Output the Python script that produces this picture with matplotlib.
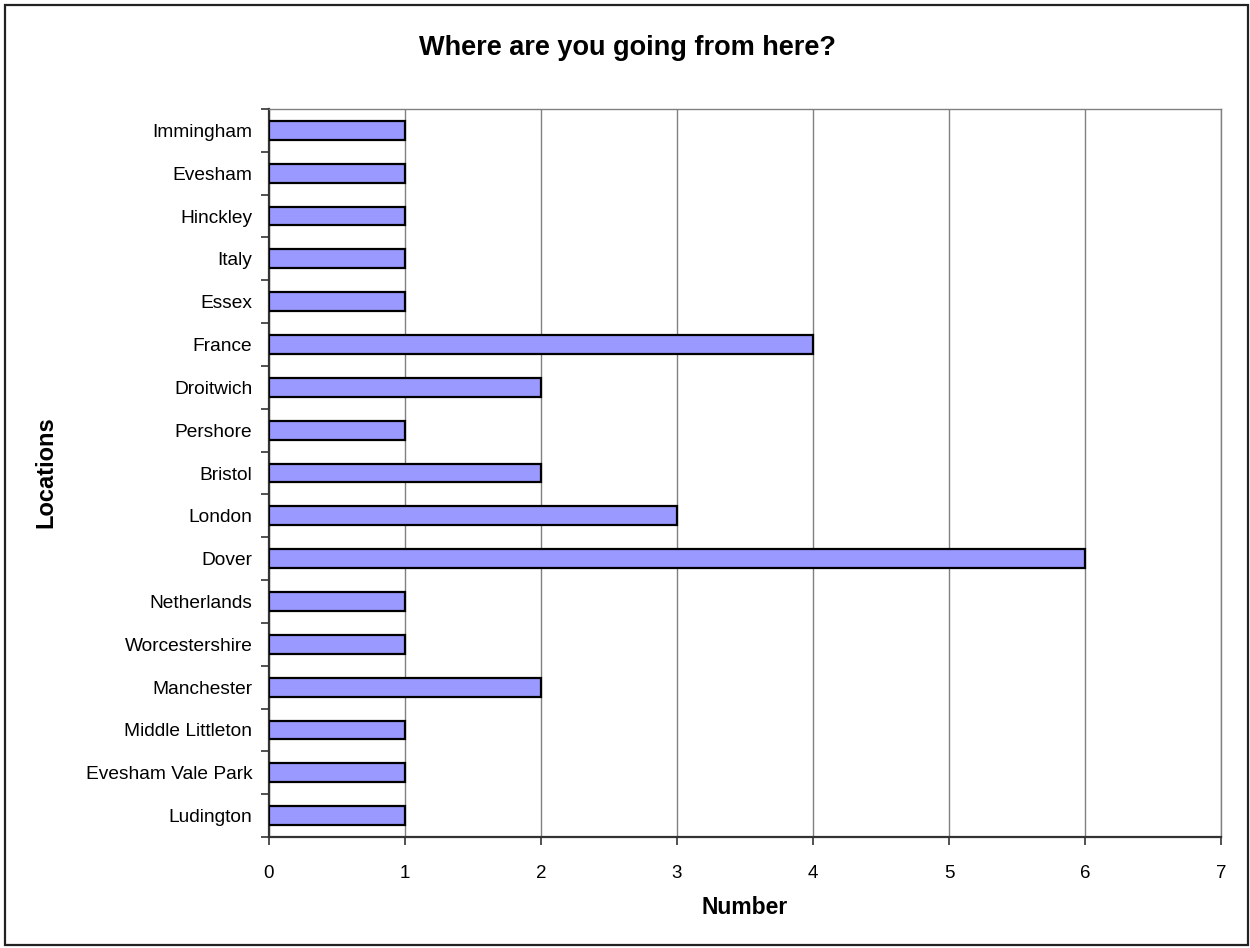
"""
plot.py
Horizontal bar chart of where people are heading next
"""

import numpy as np
import matplotlib.pyplot as plt
from matplotlib.patches import Rectangle

plt.rcParams['font.family'] = ['Liberation Sans', 'DejaVu Sans']

# Data (bottom to top)
locations = ['Ludington', 'Evesham Vale Park', 'Middle Littleton', 'Manchester',
             'Worcestershire', 'Netherlands', 'Dover', 'London', 'Bristol',
             'Pershore', 'Droitwich', 'France', 'Essex', 'Italy', 'Hinckley',
             'Evesham', 'Immingham']
counts = [1, 1, 1, 2, 1, 1, 6, 3, 2, 1, 2, 4, 1, 1, 1, 1, 1]
x_ticks = [0, 1, 2, 3, 4, 5, 6, 7]

W, H = 1250, 948
fig = plt.figure(figsize=(W/100, H/100), dpi=100, facecolor='w')

# Outer chart border
fig.patches.append(Rectangle((5/W, 3/H), 1243/W, 940/H, transform=fig.transFigure,
                             fill=False, edgecolor='#222222', linewidth=1.6))

ax = fig.add_axes([269/W, 1-837/H, (1221-269)/W, (837-109)/H])

y = np.arange(len(locations))
ax.barh(y, counts, height=0.44, color='#9999ff', edgecolor='black',
        linewidth=1.6, zorder=3)

ax.set_xlim(0, 7)
ax.set_ylim(-0.5, len(locations) - 0.5)
ax.set_xticks(x_ticks)
ax.set_xticklabels([str(v) for v in x_ticks], fontsize=13.5)
ax.xaxis.grid(True, color='#808080', linewidth=1.0, zorder=0)
ax.tick_params(axis='x', direction='out', length=6, width=1.2, pad=14, color='#333333')

# Category labels at the centres, tick marks at the boundaries
ax.set_yticks(y)
ax.set_yticklabels(locations, fontsize=13.8)
ax.set_yticks(np.arange(-0.5, len(locations)), minor=True)
ax.tick_params(axis='y', which='major', length=0, pad=12)
ax.tick_params(axis='y', which='minor', direction='out', length=6, width=1.2,
               color='#333333')

for side in ['top', 'right']:
    ax.spines[side].set_color('#808080')
    ax.spines[side].set_linewidth(1.0)
for side in ['left', 'bottom']:
    ax.spines[side].set_color('#333333')
    ax.spines[side].set_linewidth(1.6)

fig.text(627/W, 1 - 48/H, 'Where are you going from here?',
         ha='center', va='center', fontsize=19.5, fontweight='bold')
fig.text(745/W, 1 - 907/H, 'Number', ha='center', va='center',
         fontsize=16.5, fontweight='bold')
fig.text(46/W, 1 - 472/H, 'Locations', ha='center', va='center', rotation=90,
         fontsize=17, fontweight='bold')

plt.savefig('out.png', dpi=100, facecolor='w')
